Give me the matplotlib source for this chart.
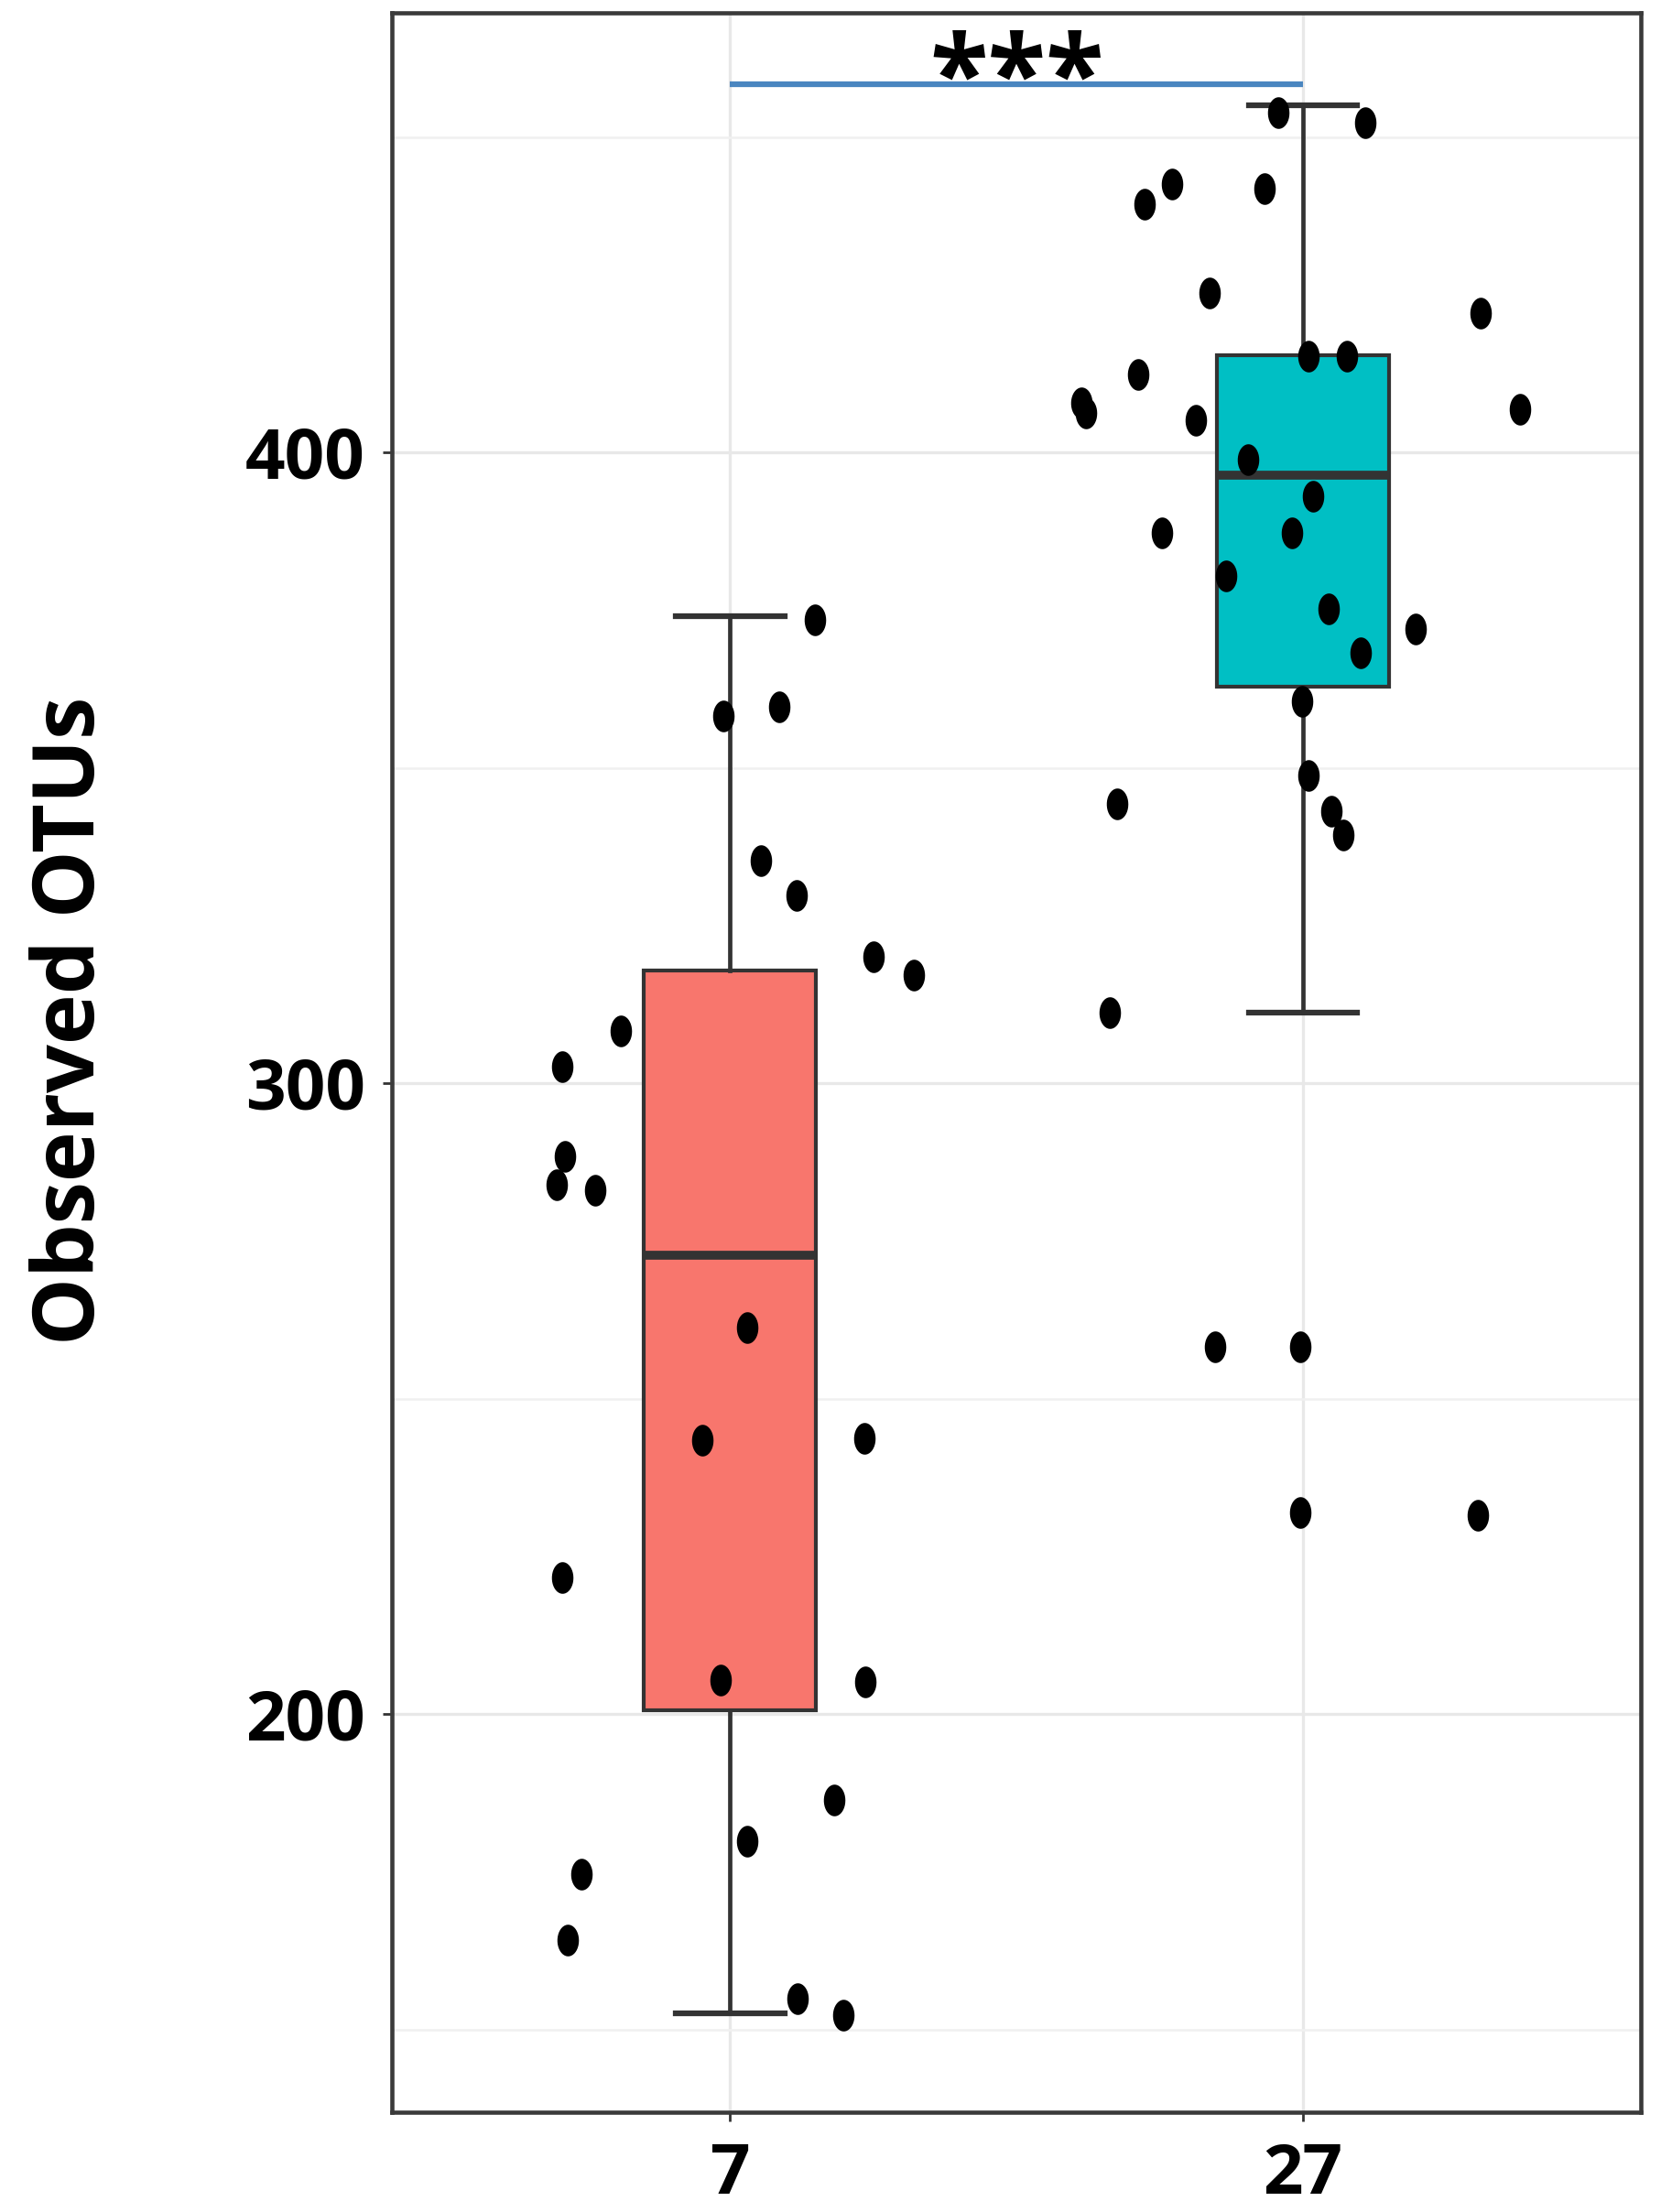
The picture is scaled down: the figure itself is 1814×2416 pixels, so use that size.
import numpy as np
import matplotlib
matplotlib.use('Agg')
from matplotlib import pyplot as plt
from matplotlib.path import Path
from matplotlib.ticker import MultipleLocator

# groups (days) and colours
groups = ['7', '27']
box_colors = ['#F8766D', '#00BFC4']

# box summaries
q1 = [200.7, 362.9]
med = [272.7, 396.4]
q3 = [317.9, 415.4]
whislo = [152.6, 311.2]
whishi = [374.0, 455.0]

# jittered points: horizontal offset from the group centre, and value
dx_7 = [0.148, -0.012, 0.086, 0.054, 0.116, 0.251, 0.32, -0.19, -0.293, -0.288,
        -0.303, -0.236, 0.03, -0.049, 0.234, -0.293, -0.017, 0.236, 0.182, 0.03,
        -0.259, -0.283, 0.118, 0.197]
val_7 = [373.4, 358.2, 359.7, 335.3, 329.8, 320.1, 317.2, 308.3, 302.7, 288.4,
         283.9, 283.0, 261.3, 243.4, 243.8, 221.7, 205.4, 205.1, 186.4, 179.9,
         174.7, 164.2, 155.0, 152.3]
dx_27 = [-0.044, 0.108, -0.067, -0.229, -0.276, -0.163, 0.31, 0.076, 0.01, -0.288,
         -0.387, -0.379, 0.379, -0.187, -0.096, 0.017, -0.246, -0.02, -0.135, 0.044,
         0.197, 0.101, -0.002, 0.01, -0.325, 0.049, 0.071, -0.337, -0.153, -0.005,
         -0.005, 0.305]
val_27 = [453.9, 452.3, 441.8, 442.5, 439.4, 425.3, 422.1, 415.2, 415.2, 412.3,
          407.8, 406.3, 406.9, 405.1, 398.9, 393.1, 387.2, 387.2, 380.5, 375.2,
          372.0, 368.2, 360.6, 348.8, 344.3, 343.2, 339.4, 311.2, 258.2, 258.2,
          232.0, 231.5]

sig_y = 458.4
sig_text = '***'

plt.rcParams['font.family'] = ['Open Sans', 'DejaVu Sans']

fig = plt.figure(figsize=(18.14, 24.16), dpi=100)
ax = fig.add_axes([0.236, 0.045, 0.752, 0.949])

# gridlines like theme_bw
ax.set_axisbelow(True)
ax.yaxis.set_major_locator(MultipleLocator(100))
ax.yaxis.set_minor_locator(MultipleLocator(50))
ax.grid(which='major', color='#e8e8e8', linewidth=2.4)
ax.grid(which='minor', axis='y', color='#f0f0f0', linewidth=1.8)

stats = []
for i in range(2):
    stats.append({'med': med[i], 'q1': q1[i], 'q3': q3[i],
                  'whislo': whislo[i], 'whishi': whishi[i], 'fliers': []})

bp = ax.bxp(stats, positions=[0, 1], widths=0.3, capwidths=0.19,
            patch_artist=True, showfliers=False,
            boxprops=dict(edgecolor='#333333', linewidth=3),
            medianprops=dict(color='#333333', linewidth=7, solid_capstyle='butt'),
            whiskerprops=dict(color='#333333', linewidth=3.4),
            capprops=dict(color='#333333', linewidth=4.5))
for patch, c in zip(bp['boxes'], box_colors):
    patch.set_facecolor(c)

# oval dots (the picture is squeezed sideways)
t = np.linspace(0, 2 * np.pi, 40)
oval = Path(np.column_stack([0.68 * np.cos(t), np.sin(t)]))

ax.scatter(np.array(dx_7) + 0, val_7, marker=oval, s=620, color='black',
           linewidths=0, zorder=5)
ax.scatter(np.array(dx_27) + 1, val_27, marker=oval, s=620, color='black',
           linewidths=0, zorder=5)

# significance bar
ax.plot([0, 1], [sig_y, sig_y], color='#4a86c0', linewidth=4.5, zorder=4,
        solid_capstyle='butt')
ax.text(0.5, 450.0, sig_text, ha='center', va='bottom', fontsize=84,
        fontweight='bold', color='black', zorder=6)

ax.set_xlim(-0.59, 1.59)
ax.set_ylim(136.9, 469.6)
ax.set_xticks([0, 1])
ax.set_xticklabels(groups)
ax.set_yticks([200, 300, 400])

ax.tick_params(axis='both', which='major', length=7, width=2, color='#333333',
               labelsize=55)
ax.tick_params(axis='y', which='major', pad=14)
ax.tick_params(axis='x', which='major', pad=16)
ax.tick_params(axis='y', which='minor', length=0)
for lab in ax.get_xticklabels() + ax.get_yticklabels():
    lab.set_fontweight('bold')

for sp in ax.spines.values():
    sp.set_color('#3a3a3a')
    sp.set_linewidth(3.3)

ax.set_ylabel('Observed OTUs', fontsize=67, fontweight='bold')
ax.yaxis.set_label_coords(-0.222, 0.52)

fig.savefig('out.png', dpi=100)
